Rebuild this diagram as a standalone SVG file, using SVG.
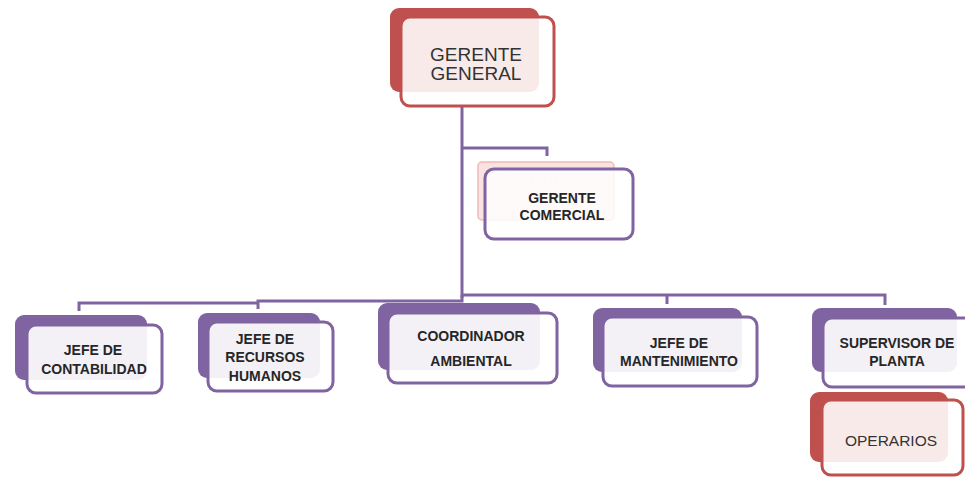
<svg xmlns="http://www.w3.org/2000/svg" width="965" height="477" viewBox="0 0 965 477">
<style>
.bp{fill:#8064a2}
.br{fill:#c0504d}
.fp{fill:#ffffff;fill-opacity:0.9;stroke:#8064a2;stroke-width:3}
.fr{fill:#ffffff;fill-opacity:0.88;stroke:#c0504d;stroke-width:3}
.lb{font-family:"Liberation Sans",Arial,sans-serif;font-weight:bold;font-size:14px;fill:#262626;text-anchor:middle}
.ln{font-family:"Liberation Sans",Arial,sans-serif;font-size:19px;fill:#333333;text-anchor:middle}
.conn{fill:none;stroke:#8064a2;stroke-width:3}
</style>
<rect width="965" height="477" fill="#ffffff"/>
<g id="connectors">
<path class="conn" d="M462,106 V298"/>
<path class="conn" d="M462,148 H547 V156"/>
<path class="conn" d="M462,295 H885 V305"/>
<path class="conn" d="M667,295 V304"/>
<path class="conn" d="M462,295 V301 H380"/>
<path class="conn" d="M380,301 H258 V309"/>
<path class="conn" d="M258,303 H79 V311"/>
</g>
<g id="gerencia-general-ghost">
<rect x="478" y="162" width="136" height="58" rx="4" fill="#f9dcdb" stroke="#eaa9a7" stroke-width="1.5" opacity="0.8"/>
<text x="546" y="183" font-family="'Liberation Sans',Arial,sans-serif" font-size="14px" fill="#f2d6d6" text-anchor="middle">GERENCIA</text>
</g>
<g id="gerente-general">
<rect class="br" x="390" y="8" width="149" height="84" rx="9"/>
<rect class="fr" x="401" y="17" width="153" height="89" rx="9"/>
<text class="ln" x="476" y="61">GERENTE</text>
<text class="ln" x="476" y="80">GENERAL</text>
</g>
<g id="gerente-comercial">
<rect class="fp" x="485" y="169" width="148" height="70" rx="9" style="fill-opacity:0.82"/>
<text class="lb" x="562" y="203">GERENTE</text>
<text class="lb" x="562" y="220">COMERCIAL</text>
</g>
<g id="jefe-contabilidad">
<rect class="bp" x="15" y="315" width="132" height="65" rx="9"/>
<rect class="fp" x="27" y="325" width="135" height="68" rx="9"/>
<text class="lb" x="93" y="355">JEFE DE</text>
<text class="lb" x="94" y="374">CONTABILIDAD</text>
</g>
<g id="jefe-rrhh">
<rect class="bp" x="198" y="313" width="122" height="65" rx="9"/>
<rect class="fp" x="208" y="322" width="125" height="69" rx="9"/>
<text class="lb" x="265" y="344">JEFE DE</text>
<text class="lb" x="265" y="362">RECURSOS</text>
<text class="lb" x="265" y="381">HUMANOS</text>
</g>
<g id="coordinador-ambiental">
<rect class="bp" x="378" y="303" width="162" height="67" rx="9"/>
<rect class="fp" x="388" y="313" width="169" height="70" rx="9"/>
<text class="lb" x="471" y="341">COORDINADOR</text>
<text class="lb" x="471" y="366">AMBIENTAL</text>
</g>
<g id="jefe-mantenimiento">
<rect class="bp" x="593" y="308" width="149" height="64" rx="9"/>
<rect class="fp" x="603" y="317" width="154" height="69" rx="9"/>
<text class="lb" x="679" y="348">JEFE DE</text>
<text class="lb" x="679" y="366">MANTENIMIENTO</text>
</g>
<g id="supervisor-planta">
<rect class="bp" x="812" y="308" width="145" height="64" rx="9"/>
<rect class="fp" x="823" y="318" width="152" height="69" rx="9"/>
<text class="lb" x="897" y="348">SUPERVISOR DE</text>
<text class="lb" x="897" y="366">PLANTA</text>
</g>
<g id="operarios">
<rect class="br" x="810" y="392" width="138" height="70" rx="9"/>
<rect class="fr" x="822" y="400" width="141" height="75" rx="9"/>
<text class="ln" x="891" y="446" style="font-size:15.5px">OPERARIOS</text>
</g>
</svg>
